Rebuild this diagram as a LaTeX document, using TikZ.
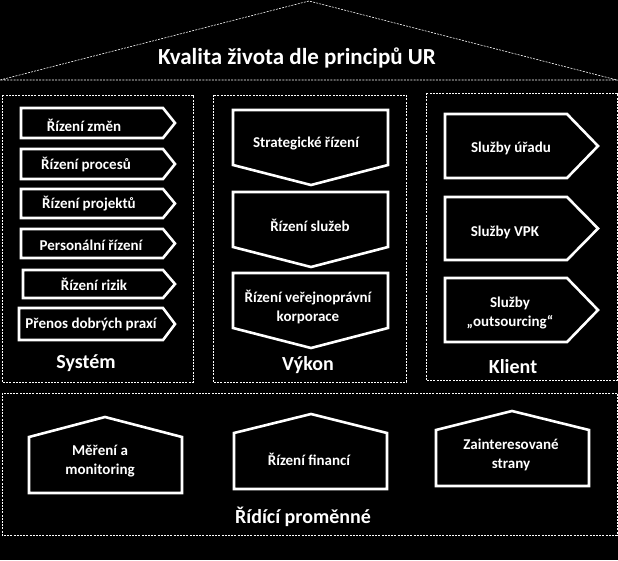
\documentclass[tikz,border=0pt]{standalone}
\usepackage{fontspec}
\setmainfont{Carlito}
\begin{document}
\begin{tikzpicture}[x=1pt,y=-1pt,
  shp/.style={draw=white, line width=2.6pt, line join=miter},
  frm/.style={draw=white, line width=0.6pt, dash pattern=on 2pt off 1.2pt},
  lbl/.style={text=white, font=\bfseries\fontsize{15}{19}\selectfont, align=center, inner sep=0pt},
  big/.style={text=white, font=\bfseries\fontsize{20}{24}\selectfont, inner sep=0pt},
  ttl/.style={text=white, font=\bfseries\fontsize{23}{27}\selectfont, inner sep=0pt}]
\fill[black] (0,0) rectangle (618,560);
\useasboundingbox (0,0) rectangle (618,560);
% roof
\draw[frm] (0,80) -- (309,1) -- (617,80) -- cycle;
\node[ttl] (title) at (297,58) {Kvalita života dle principů UR};
% frames
\draw[frm] (2,95) rectangle (193,382);
\draw[frm] (213,95) rectangle (406,382);
\draw[frm] (426,93) rectangle (617,380);
\draw[frm] (2,393) rectangle (617,535);
% left arrows
\newcommand\larr[4]{\draw[shp] (#1,#2) -- (163,#2) -- (175,{(#2+#3)/2}) -- (163,#3) -- (#1,#3) -- cycle;}
\larr{21}{108}{138}{}
\larr{21}{149}{179}{}
\larr{21}{189}{218}{}
\larr{21}{229}{258}{}
\larr{23}{270}{298}{}
\larr{19}{308}{340}{}
\node[lbl] (s1) at (84,125) {Řízení změn};
\node[lbl] (s2) at (86,165) {Řízení procesů};
\node[lbl] (s3) at (89,204) {Řízení projektů};
\node[lbl] (s4) at (91,245) {Personální řízení};
\node[lbl] (s5) at (94,284) {Řízení rizik};
\node[lbl] (s6) at (91,324) {Přenos dobrých praxí};
\node[big] (sys) at (86,363) {Systém};
% middle chevrons
\newcommand\chev[3]{\draw[shp] (233,#1) -- (388,#1) -- (388,#2) -- (311,#3) -- (233,#2) -- cycle;}
\chev{110}{165}{185}
\chev{192}{247}{267}
\chev{273}{328}{348}
\node[lbl] (v1) at (306,144) {Strategické řízení};
\node[lbl] (v2) at (310,225) {Řízení služeb};
\node[lbl] (v3) at (308,307) {Řízení veřejnoprávní\\korporace};
\node[big] (vyk) at (308,365) {Výkon};
% right arrows
\newcommand\rarr[2]{\draw[shp] (445,#1) -- (567,#1) -- (598,{(#1+#2)/2}) -- (567,#2) -- (445,#2) -- cycle;}
\rarr{114}{178}
\rarr{197}{260}
\rarr{278}{342}
\node[lbl] (k1) at (511,148) {Služby úřadu};
\node[lbl] (k2) at (505,232) {Služby VPK};
\node[lbl] (k3) at (510,313) {Služby\\„outsourcing“};
\node[big] (kli) at (513,367) {Klient};
% bottom houses
\draw[shp] (29,437) -- (105,417) -- (182,437) -- (182,493) -- (29,493) -- cycle;
\draw[shp] (234,433) -- (311,414) -- (387,433) -- (387,489) -- (234,489) -- cycle;
\draw[shp] (436,430) -- (512,411) -- (589,430) -- (589,486) -- (436,486) -- cycle;
\node[lbl] (b1) at (100,461) {Měření a\\monitoring};
\node[lbl] (b2) at (309,459) {Řízení financí};
\node[lbl] (b3) at (511,455) {Zainteresované\\strany};
\node[big] (rid) at (303,517) {Řídící proměnné};
\end{tikzpicture}
\end{document}
